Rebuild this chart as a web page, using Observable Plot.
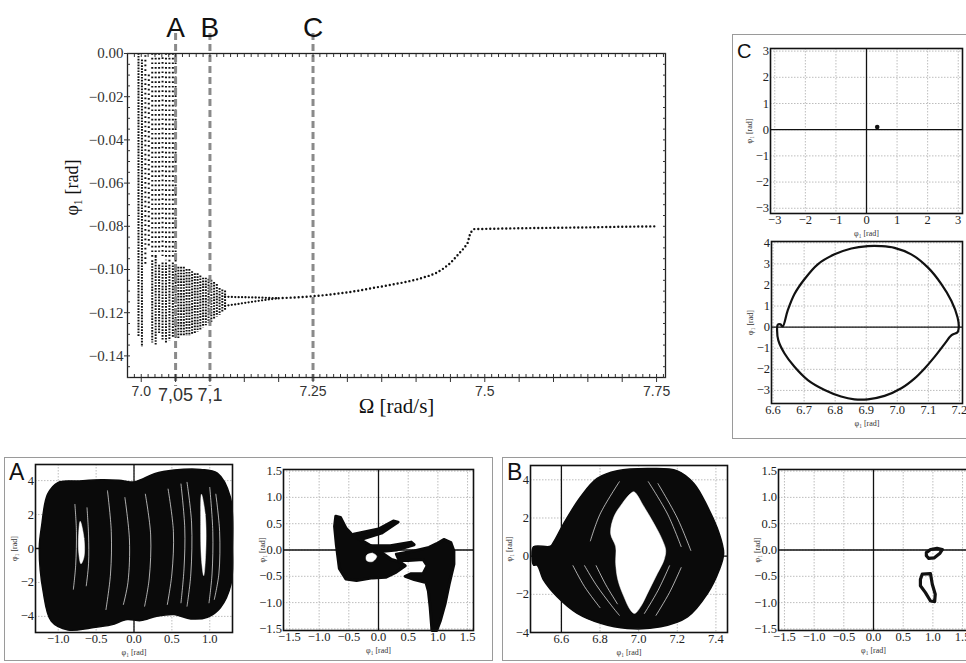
<!DOCTYPE html>
<html><head><meta charset="utf-8">
<script src="https://cdn.jsdelivr.net/npm/d3@7"></script>
<script src="https://cdn.jsdelivr.net/npm/@observablehq/plot@0.6"></script>
<style>
html,body{margin:0;padding:0;background:#fff;}
#page{position:relative;width:966px;height:663px;overflow:hidden;background:#fff;}
.box{position:absolute;border:1.5px solid #9a9a9a;box-sizing:border-box;}
.lab{position:absolute;font-family:'Liberation Sans',Arial,sans-serif;color:#111;line-height:1;}
#page svg{position:absolute;overflow:visible;}
</style></head>
<body><div id="page"></div>
<script>
const SERIF = "'Liberation Serif','Times New Roman',serif";
const SANS = "'Liberation Sans',Arial,sans-serif";

// ---------- main bifurcation diagram data ----------
const guideOmega = [7.05, 7.1, 7.25];
const guideLabels = ["A", "B", "C"];
const xLabelValues = [7.0, 7.25, 7.5, 7.75];
const xLabelTexts = ["7.0", "7.25", "7.5", "7.75"];
const xMarkValues = [7.05, 7.1];
const xMarkTexts = ["7,05", "7,1"];
const yTickValues = [0, -0.02, -0.04, -0.06, -0.08, -0.10, -0.12, -0.14];

// chaotic columns [Ω, φ top, φ bottom] (sparse dots)
const sparseColumns = [
  [7.006, -0.001, -0.098], [7.011, -0.010, -0.090], [7.016, 0.000, -0.095],
  [7.021, 0.000, -0.094], [7.026, 0.000, -0.092], [7.031, -0.002, -0.094],
  [7.036, 0.000, -0.096], [7.041, 0.000, -0.097], [7.046, 0.000, -0.095],
  [7.050, 0.000, -0.097]
];
// dense columns [Ω, φ top, φ bottom]
const denseColumns = [
  [6.996, 0.000, -0.131], [7.001, -0.003, -0.136],
  [7.016, -0.096, -0.134], [7.021, -0.094, -0.135], [7.026, -0.098, -0.130],
  [7.031, -0.097, -0.133], [7.036, -0.097, -0.134], [7.041, -0.098, -0.133],
  [7.046, -0.097, -0.132], [7.050, -0.098, -0.132], [7.054, -0.099, -0.132],
  [7.058, -0.099, -0.131], [7.062, -0.099, -0.131], [7.066, -0.100, -0.131],
  [7.070, -0.100, -0.131], [7.074, -0.101, -0.130], [7.078, -0.102, -0.130],
  [7.082, -0.102, -0.129], [7.086, -0.103, -0.128], [7.090, -0.104, -0.127],
  [7.094, -0.104, -0.126], [7.098, -0.1045, -0.125], [7.102, -0.105, -0.1245],
  [7.106, -0.106, -0.123], [7.110, -0.107, -0.122], [7.114, -0.1088, -0.1212],
  [7.118, -0.1095, -0.120], [7.122, -0.110, -0.119]
];
const omegaBranch = [7.122, 7.14, 7.16, 7.18, 7.20];
const phiUpper = [-0.1126, -0.1128, -0.1129, -0.1131, -0.1133];
const phiLower = [-0.1168, -0.1160, -0.1150, -0.1141, -0.1133];
const omegaCurve = [7.20, 7.22, 7.24, 7.26, 7.28, 7.30, 7.32, 7.34, 7.36, 7.38, 7.40, 7.42, 7.43, 7.44, 7.45, 7.46, 7.47, 7.475, 7.479, 7.484, 7.50, 7.55, 7.60, 7.65, 7.70, 7.75];
const phiCurve = [-0.1133, -0.1130, -0.1126, -0.1121, -0.1114, -0.1106, -0.1096, -0.1084, -0.1073, -0.1061, -0.1047, -0.1028, -0.1015, -0.0995, -0.0970, -0.0935, -0.0900, -0.0877, -0.0830, -0.0813, -0.0812, -0.0809, -0.0807, -0.0805, -0.0802, -0.0800];

// ---------- phase portraits / sections ----------
const cTopPoint = [[0.35, 0.1]];
const cLoop = [[6.631,0.03],[6.647,0.78],[6.669,1.57],[6.701,2.27],[6.744,2.98],[6.798,3.45],[6.852,3.73],[6.905,3.84],[6.948,3.84],[6.991,3.76],[7.045,3.45],[7.099,2.82],[7.142,2.04],[7.174,1.25],[7.194,0.47],[7.198,0.0],[7.194,-0.24],[7.174,-0.39],[7.153,-0.78],[7.120,-1.41],[7.088,-1.96],[7.056,-2.43],[7.013,-2.90],[6.959,-3.26],[6.905,-3.42],[6.862,-3.42],[6.819,-3.29],[6.766,-2.98],[6.712,-2.51],[6.669,-1.88],[6.637,-1.25],[6.617,-0.63],[6.613,-0.16],[6.615,0.11],[6.624,0.13]];

const aLeftOuter = [[-1.25,0],[-1.22,1.3],[-1.14,3.2],[-1.0,3.9],[-0.74,3.98],[-0.43,4.05],[-0.2,4.02],[0.0,3.92],[0.09,4.05],[0.27,4.4],[0.53,4.62],[0.88,4.66],[1.10,4.44],[1.27,3.05],[1.30,0],[1.28,-2.1],[1.14,-3.49],[0.97,-4.05],[0.75,-4.15],[0.53,-3.89],[0.30,-3.99],[0.09,-4.25],[-0.09,-4.19],[-0.3,-4.5],[-0.57,-4.68],[-0.87,-4.8],[-1.09,-4.29],[-1.20,-2.5]];
const aLeftHoles = [
  [[-0.71,1.6],[-0.66,0.6],[-0.66,-0.5],[-0.70,-0.9],[-0.73,-0.2],[-0.73,0.9]],
  [[0.89,3.2],[0.94,2.0],[0.95,0.2],[0.92,-1.6],[0.89,-0.6],[0.88,1.4]]
];
const aLeftGaps = [
  [[1.08,3.2],[1.13,1.0],[1.12,-1.5],[1.06,-3.0]],
  [[1.00,3.6],[1.04,1.0],[1.03,-1.5],[0.99,-3.2]],
  [[0.70,3.9],[0.76,1.5],[0.75,-1.5],[0.70,-3.4]],
  [[0.62,3.8],[0.67,1.2],[0.66,-1.2],[0.62,-3.2]],
  [[0.45,3.5],[0.52,1.0],[0.50,-1.5],[0.44,-3.3]],
  [[0.15,3.2],[0.22,0.8],[0.20,-1.8],[0.14,-3.4]],
  [[-0.12,3.0],[-0.06,0.5],[-0.08,-2.0],[-0.14,-3.3]],
  [[-0.35,3.4],[-0.30,1.0],[-0.31,-1.5],[-0.37,-3.6]],
  [[-0.78,2.6],[-0.76,1.0],[-0.77,-1.0],[-0.80,-2.4]],
  [[-0.62,2.4],[-0.60,0.8],[-0.60,-0.9],[-0.63,-2.2]]
];
const aRightPieces = [
  [[-0.72,0.64],[-0.64,0.62],[-0.55,0.42],[-0.42,0.26],[-0.25,0.16],[-0.1,0.06],[0.05,-0.05],[0.22,-0.18],[0.35,-0.22],[0.45,-0.3],[0.3,-0.42],[0.12,-0.52],[-0.1,-0.53],[-0.37,-0.58],[-0.55,-0.55],[-0.66,-0.35],[-0.71,0.1],[-0.74,0.45]],
  [[-0.42,0.30],[0.0,0.40],[0.25,0.55],[0.33,0.53],[0.05,0.32],[-0.3,0.2]],
  [[-0.2,0.08],[0.2,0.08],[0.55,0.15],[0.6,0.1],[0.3,0.0],[-0.05,-0.04]],
  [[0.3,-0.08],[0.6,-0.02],[0.85,0.05],[0.98,0.12],[1.10,0.20],[1.22,0.14],[1.27,-0.02],[1.27,-0.27],[1.19,-0.65],[1.12,-1.03],[1.04,-1.35],[0.98,-1.53],[0.90,-1.53],[0.87,-1.09],[0.84,-0.78],[0.80,-0.62],[0.6,-0.56],[0.45,-0.5],[0.55,-0.45],[0.75,-0.45],[0.82,-0.3],[0.75,-0.18],[0.5,-0.2],[0.35,-0.2]]
];
const aRightHole = [[-0.2,-0.1],[-0.1,-0.06],[-0.03,-0.12],[-0.1,-0.22],[-0.2,-0.2]];

const bLeftOuter = [[6.448,-0.03],[6.456,0.49],[6.543,0.52],[6.560,0.75],[6.612,1.71],[6.699,3.1],[6.785,4.07],[6.889,4.47],[7.062,4.59],[7.20,4.47],[7.287,3.80],[7.357,2.58],[7.417,1.19],[7.44,0.14],[7.417,-0.73],[7.357,-1.95],[7.253,-3.18],[7.114,-3.70],[6.941,-3.79],[6.803,-3.52],[6.682,-3.0],[6.578,-2.13],[6.508,-1.26],[6.474,-0.47],[6.456,-0.47]];
const bLeftHole = [[6.976,3.37],[7.028,2.58],[7.079,1.71],[7.123,0.84],[7.140,0.31],[7.131,-0.21],[7.097,-0.91],[7.054,-1.78],[7.010,-2.65],[6.979,-3.0],[6.958,-2.83],[6.924,-2.13],[6.893,-1.26],[6.881,-0.38],[6.881,0.49],[6.855,1.19],[6.872,2.06],[6.915,2.76],[6.958,3.28]];
const bLeftGaps = [
  [[6.72,-0.5],[6.78,-1.5],[6.86,-2.6],[6.90,-3.1]],
  [[6.66,-0.5],[6.72,-1.6],[6.80,-2.7]],
  [[6.78,-0.5],[6.83,-1.5],[6.89,-2.5]],
  [[7.05,3.9],[7.15,2.2],[7.22,0.5]],
  [[7.10,3.8],[7.20,2.0],[7.27,0.3]],
  [[7.16,-0.5],[7.10,-1.8],[7.03,-3.0]],
  [[7.22,-0.6],[7.16,-1.9],[7.09,-3.1]],
  [[6.90,3.9],[6.80,2.2],[6.75,0.8]]
];
const bRightLoopUpper = [[0.89,-0.05],[0.96,0.01],[1.07,0.03],[1.16,0.01],[1.12,-0.06],[1.02,-0.15],[0.93,-0.16],[0.89,-0.11]];
const bRightLoopLower = [[0.82,-0.46],[0.96,-0.45],[0.99,-0.65],[1.04,-0.84],[1.03,-0.98],[0.96,-0.97],[0.875,-0.81],[0.79,-0.68],[0.79,-0.56]];

const page = document.getElementById("page");
function place(svg, left, top) {
  svg.style.left = left + "px";
  svg.style.top = top + "px";
  page.appendChild(svg);
}
function addBox(left, top, w, h) {
  const d = document.createElement("div");
  d.className = "box";
  Object.assign(d.style, {left: left + "px", top: top + "px", width: w + "px", height: h + "px"});
  page.appendChild(d);
}
function addLabel(text, left, top, size) {
  const d = document.createElement("div");
  d.className = "lab";
  d.textContent = text;
  Object.assign(d.style, {left: left + "px", top: top + "px", fontSize: size + "px"});
  page.appendChild(d);
}

// panel boxes
addBox(4, 457, 489, 204);
addBox(502, 457, 480, 204);
addBox(732, 34, 250, 405);
addLabel("A", 9, 461, 23);
addLabel("B", 507, 461, 23);
addLabel("C", 737, 41, 20);

// ---------- main plot ----------
const xMajor = d3.range(0, 16).map(i => 7 + i * 0.05);
const xMinor = d3.range(0, 78).map(i => 6.99 + i * 0.01);
const yMinor = d3.range(0, 31).map(i => -0.15 + i * 0.005);
const fmtX = new Map(xLabelValues.map((v, i) => [v, xLabelTexts[i]]));
const fmtXm = new Map(xMarkValues.map((v, i) => [v, xMarkTexts[i]]));
const xy = (d) => d;

const main = Plot.plot({
  width: 700, height: 430, marginLeft: 127, marginRight: 35, marginTop: 53, marginBottom: 53,
  x: {domain: [6.98, 7.763]},
  y: {domain: [-0.15, 0]},
  style: {fontFamily: SERIF, fontSize: "15px", color: "#333", background: "transparent"},
  marks: [
    Plot.ruleX(sparseColumns, {x: d => d[0], y1: d => d[1], y2: d => d[2], stroke: "#111", strokeWidth: 2, strokeDasharray: "1.7,3"}),
    Plot.ruleX(denseColumns, {x: d => d[0], y1: d => d[1], y2: d => d[2], stroke: "#111", strokeWidth: 2, strokeDasharray: "1.7,1.2"}),
    Plot.line(omegaBranch, {x: xy, y: (d, i) => phiUpper[i], stroke: "#111", strokeWidth: 2.3, strokeDasharray: "0,3.4", strokeLinecap: "round"}),
    Plot.line(omegaBranch, {x: xy, y: (d, i) => phiLower[i], stroke: "#111", strokeWidth: 2.3, strokeDasharray: "0,3.4", strokeLinecap: "round"}),
    Plot.line(omegaCurve, {x: xy, y: (d, i) => phiCurve[i], stroke: "#111", strokeWidth: 2.4, strokeDasharray: "0,4", strokeLinecap: "round"}),
    Plot.ruleX(guideOmega, {stroke: "#8a8a8a", strokeWidth: 3, strokeDasharray: "7,4", insetTop: -20, insetBottom: -9}),
    Plot.text(guideLabels, {x: guideOmega, text: guideLabels, frameAnchor: "top", dy: -36, fontSize: 28, fontFamily: SANS, fill: "#111"}),
    Plot.frame({stroke: "#222", strokeWidth: 1.3}),
    Plot.axisY(yTickValues, {tickSize: 3, tickPadding: 1, tickFormat: d3.format(".2f"), fontSize: 15}),
    Plot.axisY(yMinor, {tickSize: -3, tickFormat: () => ""}),
    Plot.axisY(yMinor, {anchor: "right", tickSize: -3, tickFormat: () => ""}),
    Plot.axisX(xMajor, {tickSize: 5, tickFormat: () => ""}),
    Plot.axisX(xMinor, {tickSize: -3, tickFormat: () => ""}),
    Plot.axisX(xMinor, {anchor: "top", tickSize: -3, tickFormat: () => ""}),
    Plot.axisX(xLabelValues, {tickSize: 0, tickPadding: 9, tickFormat: d => fmtX.get(d), fontSize: 14, fontFamily: SANS}),
    Plot.axisX(xMarkValues, {tickSize: 0, tickPadding: 11, tickFormat: d => fmtXm.get(d), fontSize: 18, fontFamily: SANS}),
    Plot.text(["Ω [rad/s]"], {frameAnchor: "bottom", dy: 35, fontSize: 21, fontFamily: SERIF, fill: "#111"}),
    Plot.text(["φ₁ [rad]"], {frameAnchor: "left", textAnchor: "middle", dx: -55, dy: -28, rotate: -90, fontSize: 18, fontFamily: SERIF, fill: "#111"})
  ]
});
place(main, 0, 0);

// ---------- sub panels ----------
function subPanel(cfg) {
  const mL = 26, mT = 4, mR = 6, mB = 30;
  const marks = [
    Plot.gridX(cfg.xTicks, {stroke: "#bdbdbd", strokeOpacity: 1, strokeDasharray: "1.5,1.5"}),
    Plot.gridY(cfg.yTicks, {stroke: "#bdbdbd", strokeOpacity: 1, strokeDasharray: "1.5,1.5"})
  ];
  if (cfg.xAxisAt !== null) marks.push(Plot.ruleX([cfg.xAxisAt ?? 0], {stroke: "#111", strokeWidth: 1.3}));
  marks.push(Plot.ruleY([0], {stroke: "#111", strokeWidth: 1.3}));
  marks.push(...cfg.marks);
  marks.push(
    Plot.frame({stroke: "#111", strokeWidth: 1.6}),
    Plot.axisX(cfg.xTicks, {tickSize: 0, tickPadding: 2, tickFormat: cfg.xFormat, fontSize: 12.5}),
    Plot.axisY(cfg.yTicks, {tickSize: 0, tickPadding: 1.5, tickFormat: cfg.yFormat, fontSize: 12.5}),
    Plot.text(["φ₁ [rad]"], {frameAnchor: "bottom", dy: 22, fontSize: 8, fill: "#333"}),
    Plot.text(["φ₁ [rad]"], {frameAnchor: "left", textAnchor: "middle", dx: -21, rotate: -90, fontSize: 8, fill: "#333"})
  );
  const svg = Plot.plot({
    width: cfg.fw + mL + mR, height: cfg.fh + mT + mB,
    marginLeft: mL, marginTop: mT, marginRight: mR, marginBottom: mB,
    x: {domain: cfg.xDomain}, y: {domain: cfg.yDomain},
    style: {fontFamily: SERIF, fontSize: "12.5px", color: "#222", background: "transparent"},
    marks
  });
  place(svg, cfg.left - mL, cfg.top - mT);
}
const f1 = d3.format(".1f"), fd = d3.format("d");
const px = d => d[0], py = d => d[1];

// C top: Poincaré section
subPanel({left: 770, top: 48, fw: 192, fh: 165, xDomain: [-3.14, 3.14], yDomain: [-3.2, 3.1],
  xTicks: [-3, -2, -1, 0, 1, 2, 3], yTicks: [-3, -2, -1, 0, 1, 2, 3], xFormat: fd, yFormat: fd,
  marks: [Plot.dot(cTopPoint, {x: px, y: py, r: 2.3, fill: "#111"})]});
// C bottom: phase portrait
subPanel({left: 771, top: 241, fw: 191, fh: 162, xDomain: [6.595, 7.21], yDomain: [-3.62, 4.06], xAxisAt: null,
  xTicks: [6.6, 6.7, 6.8, 6.9, 7.0, 7.1, 7.2], yTicks: [-3, -2, -1, 0, 1, 2, 3, 4], xFormat: f1, yFormat: fd,
  marks: [Plot.line(cLoop, {x: px, y: py, curve: "catmull-rom-closed", stroke: "#111", strokeWidth: 2.2})]});
// A left
subPanel({left: 35, top: 464, fw: 197, fh: 168, xDomain: [-1.3, 1.3], yDomain: [-4.95, 4.95],
  xTicks: [-1.0, -0.5, 0.0, 0.5, 1.0], yTicks: [-4, -2, 0, 2, 4], xFormat: f1, yFormat: fd,
  marks: [
    Plot.line(aLeftOuter, {x: px, y: py, curve: "catmull-rom-closed", fill: "#0a0a0a", stroke: "#0a0a0a", strokeWidth: 1.5}),
    ...aLeftHoles.map(h => Plot.line(h, {x: px, y: py, curve: "catmull-rom-closed", fill: "#fff", stroke: "#fff", strokeWidth: 0.5})),
    ...aLeftGaps.map(g => Plot.line(g, {x: px, y: py, curve: "catmull-rom", stroke: "#fff", strokeWidth: 0.9, strokeOpacity: 0.75}))
  ]});
// A right
subPanel({left: 283, top: 469, fw: 190, fh: 161, xDomain: [-1.6, 1.6], yDomain: [-1.53, 1.53],
  xTicks: [-1.5, -1.0, -0.5, 0.0, 0.5, 1.0, 1.5], yTicks: [-1.5, -1.0, -0.5, 0.0, 0.5, 1.0, 1.5], xFormat: f1, yFormat: f1,
  marks: [
    ...aRightPieces.map(p => Plot.line(p, {x: px, y: py, curve: "linear-closed", fill: "#0a0a0a", stroke: "#0a0a0a", strokeWidth: 3, strokeLinejoin: "round"})),
    Plot.line(aRightHole, {x: px, y: py, curve: "catmull-rom-closed", fill: "#fff", stroke: "#fff", strokeWidth: 0.5})
  ]});
// B left
subPanel({left: 530, top: 465, fw: 197, fh: 167, xDomain: [6.44, 7.46], yDomain: [-4, 4.75], xAxisAt: 6.6,
  xTicks: [6.6, 6.8, 7.0, 7.2, 7.4], yTicks: [-4, -2, 0, 2, 4], xFormat: f1, yFormat: fd,
  marks: [
    Plot.line(bLeftOuter, {x: px, y: py, curve: "catmull-rom-closed", fill: "#0a0a0a", stroke: "#0a0a0a", strokeWidth: 1.5}),
    Plot.line(bLeftHole, {x: px, y: py, curve: "catmull-rom-closed", fill: "#fff", stroke: "#fff", strokeWidth: 0.5}),
    ...bLeftGaps.map(g => Plot.line(g, {x: px, y: py, curve: "catmull-rom", stroke: "#fff", strokeWidth: 0.9, strokeOpacity: 0.75}))
  ]});
// B right
subPanel({left: 778, top: 469, fw: 190, fh: 161, xDomain: [-1.6, 1.6], yDomain: [-1.53, 1.53],
  xTicks: [-1.5, -1.0, -0.5, 0.0, 0.5, 1.0, 1.5], yTicks: [-1.5, -1.0, -0.5, 0.0, 0.5, 1.0, 1.5], xFormat: f1, yFormat: f1,
  marks: [
    Plot.line(bRightLoopUpper, {x: px, y: py, curve: "linear-closed", stroke: "#111", strokeWidth: 3.2, strokeLinejoin: "round"}),
    Plot.line(bRightLoopLower, {x: px, y: py, curve: "linear-closed", stroke: "#111", strokeWidth: 3.2, strokeLinejoin: "round"})
  ]});
</script>
</body></html>
